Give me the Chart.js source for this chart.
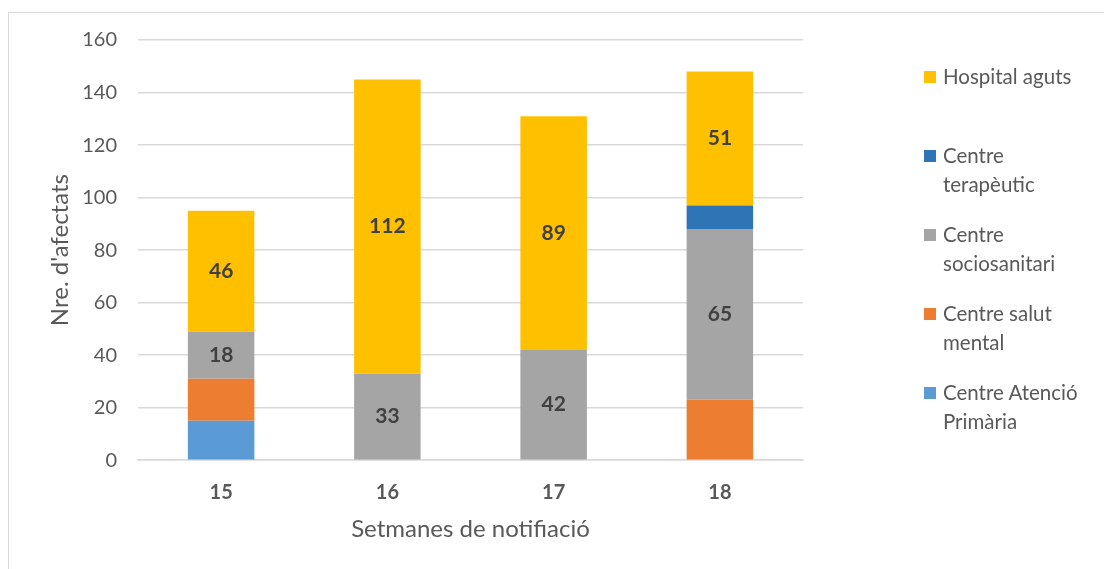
<!DOCTYPE html>
<html>
<head>
<meta charset="utf-8">
<script src="https://cdn.jsdelivr.net/npm/chart.js@4.4.1/dist/chart.umd.min.js"></script>
<style>
  html, body { margin: 0; padding: 0; background: #fff; }
  #wrap { position: relative; width: 1104px; height: 569px; overflow: hidden; }
  #frame { position: absolute; left: 8px; top: 12px; width: 1110px; height: 580px; border: 1px solid #D9D9D9; box-sizing: border-box; }
  #c { position: absolute; left: 0; top: 0; }
  #legend { position: absolute; left: 924px; top: 62px; font-family: Lato, "Open Sans", sans-serif; font-size: 20.5px; color: #595959; }
  .item { position: relative; height: 79px; padding-left: 19px; width: 150px; line-height: 29px; }
  .sw { position: absolute; left: 0; top: 9px; width: 12px; height: 12px; }
</style>
</head>
<body>
<div id="wrap">
  <div id="frame"></div>
  <canvas id="c" width="1104" height="569"></canvas>
  <div id="legend"></div>
</div>
<script>
const weeks = ['15', '16', '17', '18'];
const seriesNames = ['Centre Atenció Primària', 'Centre salut mental', 'Centre sociosanitari', 'Centre terapèutic', 'Hospital aguts'];
const primaria = [15, 0, 0, 0];
const salutMental = [16, 0, 0, 23];
const sociosanitari = [18, 33, 42, 65];
const terapeutic = [0, 0, 0, 9];
const hospital = [46, 112, 89, 51];
const yTicks = [0, 20, 40, 60, 80, 100, 120, 140, 160];

const colors = ['#5B9BD5', '#ED7D31', '#A5A5A5', '#2E75B6', '#FFC000'];
const labelled = [false, false, true, false, true];
const values = [primaria, salutMental, sociosanitari, terapeutic, hospital];
const FONT = 'Lato, "Open Sans", sans-serif';

const datasets = seriesNames.map((n, i) => ({
  label: n,
  data: values[i],
  backgroundColor: colors[i],
  borderWidth: 0,
  showValue: labelled[i]
}));

const valuePlugin = {
  id: 'valueLabels',
  afterDatasetsDraw(chart) {
    const ctx = chart.ctx;
    ctx.save();
    ctx.font = 'bold 21px ' + FONT;
    ctx.fillStyle = '#404040';
    ctx.textAlign = 'center';
    ctx.textBaseline = 'middle';
    chart.data.datasets.forEach((ds, di) => {
      if (!ds.showValue) return;
      const meta = chart.getDatasetMeta(di);
      meta.data.forEach((bar, j) => {
        const v = ds.data[j];
        if (!v) return;
        const p = bar.getProps(['x', 'y', 'base'], true);
        ctx.fillText(String(v), p.x, (p.y + p.base) / 2);
      });
    });
    ctx.restore();
  }
};

const chart = new Chart(document.getElementById('c'), {
  type: 'bar',
  data: { labels: weeks, datasets },
  options: {
    responsive: false,
    animation: false,
    layout: { padding: { left: 46, right: 301, top: 40, bottom: 25 } },
    plugins: { legend: { display: false }, tooltip: { enabled: false } },
    datasets: { bar: { barPercentage: 1, categoryPercentage: 0.4 } },
    scales: {
      x: {
        stacked: true,
        grid: { display: false, drawTicks: false },
        border: { color: '#D9D9D9', width: 1.5 },
        ticks: { color: '#595959', font: { family: FONT, size: 20, weight: 'bold' }, padding: 20 },
        title: { display: true, text: 'Setmanes de notifiació', color: '#595959', font: { family: FONT, size: 24 }, padding: { top: -9, bottom: 0 } }
      },
      y: {
        stacked: true,
        min: 0, max: 160,
        afterBuildTicks(scale) { scale.ticks = yTicks.map(v => ({ value: v })); },
        afterFit(scale) { scale.width = 92; },
        grid: { color: '#D9D9D9', lineWidth: 1.5, drawTicks: false },
        border: { display: false },
        ticks: { color: '#595959', font: { family: FONT, size: 20 }, padding: 21 },
        title: { display: true, text: "Nre. d'afectats", color: '#595959', font: { family: FONT, size: 24 }, padding: { top: 0, bottom: 9 } }
      }
    }
  },
  plugins: [valuePlugin]
});

const legend = document.getElementById('legend');
chart.data.datasets.slice().reverse().forEach(ds => {
  const item = document.createElement('div');
  item.className = 'item';
  const sw = document.createElement('span');
  sw.className = 'sw';
  sw.style.background = ds.backgroundColor;
  item.appendChild(sw);
  item.appendChild(document.createTextNode(ds.label));
  legend.appendChild(item);
});
</script>
</body>
</html>
